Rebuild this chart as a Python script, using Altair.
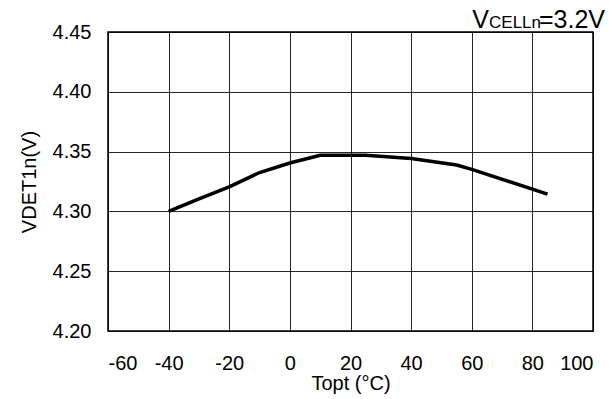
import altair as alt
import pandas as pd

# Detection voltage vs. operating temperature
temps = [-40, -30, -20, -10, 0, 10, 25, 40, 55, 60, 85]
vdet = [4.300, 4.3105, 4.3205, 4.3325, 4.3405, 4.347, 4.347, 4.3443, 4.3388, 4.3352, 4.3144]

x_ticks = [-60, -40, -20, 0, 20, 40, 60, 80, 100]
y_ticks = [4.20, 4.25, 4.30, 4.35, 4.40, 4.45]

# Condition note in the top-right corner, drawn in three runs
note_parts = ["V", "CELLn", "=3.2V"]
note_sizes = [25, 17, 25]

FONT = "Liberation Sans"
W, H = 485, 299

df = pd.DataFrame({"Topt": temps, "VDET1n": vdet})

line = alt.Chart(df).mark_line(color="black", strokeWidth=3.5).encode(
    x=alt.X(
        "Topt:Q",
        scale=alt.Scale(domain=[-60, 100], nice=False, zero=False),
        axis=alt.Axis(values=x_ticks, title="Topt (°C)", labelPadding=22, titlePadding=0,
                      labelExpr="replace(datum.label, '\u2212', '-')"),
    ),
    y=alt.Y(
        "VDET1n:Q",
        scale=alt.Scale(domain=[4.20, 4.45], nice=False, zero=False),
        axis=alt.Axis(values=y_ticks, format=".2f", title="VDET1n(V)",
                      labelPadding=17, titlePadding=13),
    ),
)

# right edges of the three runs, in plot coordinates
note_right = [381, 433, 497]
note_layers = []
for text, size, xr in zip(note_parts, note_sizes, note_right):
    note_layers.append(
        alt.Chart(pd.DataFrame({"t": [text]}))
        .mark_text(align="right", baseline="alphabetic", fontSize=size, font=FONT, color="black")
        .encode(x=alt.value(xr), y=alt.value(-4), text="t:N")
    )

chart = (
    alt.layer(line, *note_layers)
    .properties(width=W, height=H, padding={"left": 108, "top": 32, "right": 20, "bottom": 68},
                autosize="none", background="white")
    .configure_view(stroke="black", strokeWidth=1.5)
    .configure_axis(
        grid=True, gridColor="#000000", gridWidth=1, gridOpacity=0.85,
        domain=False, ticks=False,
        labelFont=FONT, labelFontSize=20, labelColor="black",
        titleFont=FONT, titleFontSize=20, titleFontWeight="normal", titleColor="black",
    )
)

chart.save("out.html", embed_options={"renderer": "svg", "actions": False})
